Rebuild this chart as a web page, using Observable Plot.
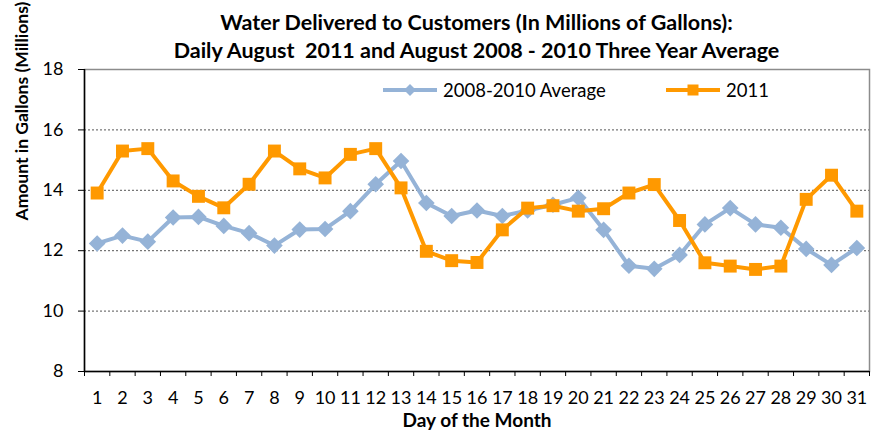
<!DOCTYPE html>
<html>
<head>
<meta charset="utf-8">
<script src="https://cdn.jsdelivr.net/npm/d3@7"></script>
<script src="https://cdn.jsdelivr.net/npm/@observablehq/plot@0.6"></script>
<style>
  body { margin: 0; background: #fff; font-family: Lato, "Open Sans", sans-serif; }
  #wrap { position: relative; width: 878px; height: 434px; overflow: hidden; }
  #title { height: 63px; box-sizing: border-box; padding: 8px 9px 0 84px; text-align: center;
           font-weight: bold; font-size: 21.5px; line-height: 28px; color: #000; white-space: pre; }
  #legend { position: absolute; top: 80px; left: 0; width: 878px; height: 20px; font-size: 18.5px; line-height: 20px; color: #000; }
  .item { position: absolute; top: 0; display: flex; align-items: center; }
  .item svg { display: block; margin-right: 6px; }
</style>
</head>
<body>
<div id="wrap">
  <div id="title"></div>
  <div id="chart"></div>
  <div id="legend"></div>
</div>
<script>
// ---- data ----
const titleLines = ["Water Delivered to Customers (In Millions of Gallons):",
                    "Daily August  2011 and August 2008 - 2010 Three Year Average"];
const days = [1,2,3,4,5,6,7,8,9,10,11,12,13,14,15,16,17,18,19,20,21,22,23,24,25,26,27,28,29,30,31];
const seriesNames = ["2008-2010 Average", "2011"];
const avgValues = [12.24,12.5,12.3,13.1,13.12,12.82,12.58,12.17,12.7,12.72,13.31,14.2,14.97,13.58,13.15,13.33,
                   13.15,13.33,13.52,13.75,12.69,11.5,11.4,11.86,12.87,13.41,12.87,12.76,12.06,11.53,12.09];
const values2011 = [13.91,15.3,15.38,14.31,13.8,13.42,14.2,15.3,14.71,14.41,15.19,15.38,14.08,11.98,11.67,11.61,
                    12.69,13.41,13.49,13.31,13.39,13.91,14.19,13.0,11.6,11.49,11.38,11.49,13.7,14.5,13.31];
const yTicks = [8,10,12,14,16,18];
const gridValues = [10,12,14,16];
const colors = ["#95B3D7", "#FF9900"];
const xLabel = "Day of the Month";
const yLabel = "Amount in Gallons (Millions)";

// ---- build ----
document.getElementById("title").textContent = titleLines.join("\n");

const avgData = days.map((d, i) => ({day: d, value: avgValues[i]}));
const data2011 = days.map((d, i) => ({day: d, value: values2011[i]}));
const boundaries = days.map(d => d - 0.5).concat([days[days.length - 1] + 0.5]);

const chart = Plot.plot({
  width: 878,
  height: 371,
  marginTop: 6,
  marginBottom: 63,
  marginLeft: 84,
  marginRight: 9,
  x: {type: "linear", domain: [boundaries[0], boundaries[boundaries.length - 1]]},
  y: {domain: [yTicks[0], yTicks[yTicks.length - 1]]},
  style: {fontFamily: "Lato, 'Open Sans', sans-serif", fontSize: "17px", color: "#000", background: "#fff", overflow: "visible"},
  marks: [
    Plot.ruleY(gridValues, {stroke: "#555", strokeWidth: 1, strokeDasharray: "2,2"}),
    Plot.frame({stroke: "#8c8c8c", strokeWidth: 1.5}),
    Plot.ruleX([boundaries[0]], {stroke: "#000", strokeWidth: 1.5}),
    Plot.ruleY([yTicks[0]], {stroke: "#000", strokeWidth: 1.5}),
    Plot.axisY(yTicks, {tickSize: 6, tickPadding: 15, label: null, fontSize: 18, stroke: "#000"}),
    Plot.axisX(boundaries, {tickSize: 5, tickFormat: () => "", label: null, stroke: "#000"}),
    Plot.axisX(days, {tickSize: 0, tickPadding: 20, label: null, fontSize: 18}),
    Plot.line(avgData, {x: "day", y: "value", stroke: colors[0], strokeWidth: 4}),
    Plot.dot(avgData, {x: "day", y: "value", symbol: "diamond2", r: 7.5, fill: colors[0], stroke: "none"}),
    Plot.line(data2011, {x: "day", y: "value", stroke: colors[1], strokeWidth: 4}),
    Plot.dot(data2011, {x: "day", y: "value", symbol: "square", r: 7.3, fill: colors[1], stroke: "none"}),
    Plot.text([xLabel], {frameAnchor: "bottom", dy: 55.5, fontWeight: "bold", fontSize: 19}),
    Plot.text([yLabel], {frameAnchor: "left", dx: -62, rotate: -90, fontWeight: "bold", fontSize: 17.5})
  ]
});
document.getElementById("chart").appendChild(chart);

// ---- legend (overlaid inside the plot area, as in the reference) ----
const legend = document.getElementById("legend");
const legendLeft = [383, 666];
const legendSymbols = [
  `<path d="M27 4 L33 10 L27 16 L21 10 Z" fill="${colors[0]}"/>`,
  `<rect x="21.5" y="4.5" width="11" height="11" fill="${colors[1]}"/>`
];
seriesNames.forEach((name, i) => {
  const item = document.createElement("div");
  item.className = "item";
  item.style.left = legendLeft[i] + "px";
  item.innerHTML = `<svg width="54" height="20"><line x1="0" x2="54" y1="10" y2="10" stroke="${colors[i]}" stroke-width="4"/>${legendSymbols[i]}</svg><span>${name}</span>`;
  legend.appendChild(item);
});
</script>
</body>
</html>
